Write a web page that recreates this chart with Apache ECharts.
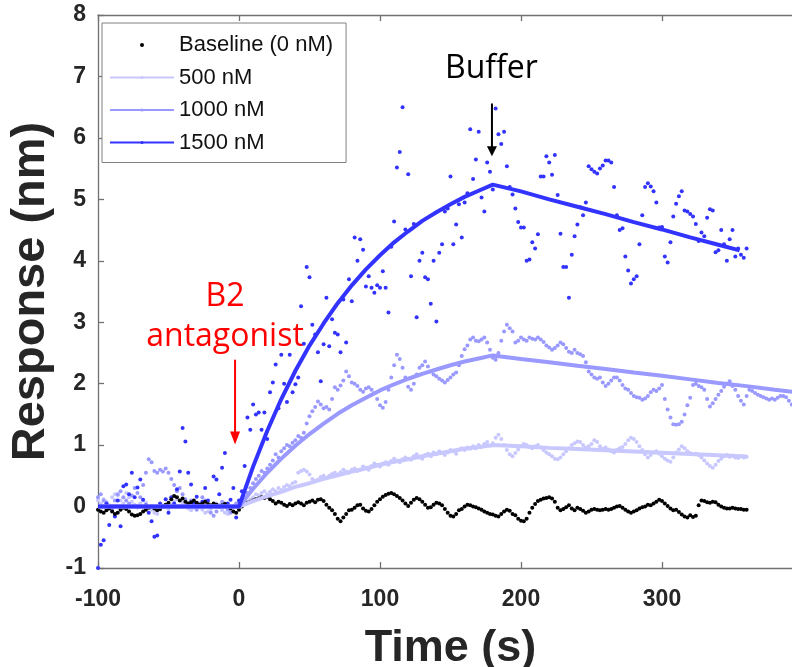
<!DOCTYPE html>
<html><head><meta charset="utf-8">
<script src="https://cdn.jsdelivr.net/npm/echarts@6/dist/echarts.min.js"></script>
<style>html,body{margin:0;padding:0;background:#fff}#c{width:792px;height:667px}</style>
</head><body><div id="c"></div>
<script>
// ---- data (time grid: start -100 s, every 2 s) ----
const timeStart = -100, timeStep = 2;
const xTicks = [-100, 0, 100, 200, 300];
const yTicks = [-1, 0, 1, 2, 3, 4, 5, 6, 7, 8];

const baseline = [
 -0.05,-0.08,-0.1,-0.06,-0.03,-0.08,-0.12,-0.1,-0.05,-0.02,-0.04,-0.08,-0.13,-0.15,-0.14,-0.12,
 -0.08,-0.05,-0.02,0.0,-0.03,-0.06,-0.04,0.0,0.03,0.06,
 0.12,0.17,0.15,0.1,0.13,0.08,0.05,0.07,0.1,0.06,
 0.03,0.05,0.08,0.04,0.02,0.05,0.03,0.0,0.02,0.04,
 0.01,-0.03,-0.08,-0.1,-0.05,
 0.0,0.04,0.06,0.08,0.1,0.12,0.13,0.15,0.14,0.16,
 0.12,0.09,0.05,0.08,0.06,0.03,0.01,0.04,0.02,0.05,
 0.07,0.05,0.02,0.06,0.08,0.1,0.07,0.11,0.12,0.09,
 0.03,-0.02,-0.06,-0.12,-0.2,-0.24,-0.18,-0.12,-0.06,-0.05,
 -0.02,0.02,0.03,-0.03,-0.07,-0.08,-0.04,0.02,0.08,0.12,
 0.16,0.19,0.21,0.22,0.2,0.17,0.14,0.1,0.05,0.01,
 0.06,0.11,0.14,0.12,0.08,0.03,-0.02,-0.01,0.03,0.06,
 0.05,0.02,-0.04,-0.1,-0.15,-0.16,-0.12,-0.06,-0.04,0.0,
 0.03,0.02,0.0,-0.01,-0.03,-0.05,-0.08,-0.1,-0.12,-0.13,
 -0.15,-0.16,-0.12,-0.08,-0.05,-0.07,-0.12,-0.14,-0.2,-0.23,
 -0.24,-0.2,-0.1,-0.02,0.04,0.09,0.11,0.13,0.14,0.15,
 0.13,0.08,-0.02,-0.06,-0.04,-0.01,0.02,-0.03,-0.06,-0.02,
 -0.04,-0.07,-0.1,-0.08,-0.05,-0.04,-0.05,-0.06,-0.05,-0.04,
 -0.05,-0.04,-0.02,0.0,0.01,-0.02,-0.05,-0.08,-0.1,-0.08,
 -0.06,-0.03,-0.01,0.0,0.03,0.02,0.05,0.08,0.11,0.09,
 0.05,0.01,-0.03,-0.06,-0.05,-0.09,-0.13,-0.16,-0.18,-0.14,
 -0.17,-0.15,0.02,0.1,0.09,0.07,0.06,0.08,0.07,0.03,
 0.0,-0.02,-0.03,-0.03,-0.02,-0.03,-0.04,-0.04,-0.05,-0.05
];

const resp500 = [
 0.1,0.05,0.12,0.08,0.02,0.15,0.2,0.18,0.1,0.05,
 0.22,0.15,0.08,0.03,-0.02,0.05,0.1,0.06,0.0,-0.05,
 -0.1,-0.12,-0.05,0.02,0.0,-0.04,0.03,0.08,0.12,0.1,
 0.06,0.02,-0.03,-0.06,-0.02,0.04,0.01,-0.05,-0.1,-0.08,
 -0.04,0.02,0.05,0.0,-0.06,-0.1,-0.12,-0.07,0.0,0.04,
 0.05,
 0.06,0.1,0.08,0.12,0.15,0.2,0.18,0.22,0.25,0.2,
 0.24,0.28,0.25,0.3,0.27,0.32,0.35,0.33,0.38,0.4,
 0.55,0.58,0.6,0.57,0.52,0.45,0.42,0.44,0.48,0.5,
 0.46,0.5,0.53,0.55,0.52,0.56,0.6,0.57,0.55,0.6,
 0.62,0.58,0.6,0.65,0.63,0.6,0.66,0.7,0.68,0.65,
 0.7,0.72,0.68,0.74,0.78,0.75,0.72,0.77,0.8,0.78,
 0.76,0.82,0.85,0.8,0.78,0.84,0.86,0.82,0.88,0.85,
 0.9,0.87,0.84,0.88,0.92,0.9,0.86,0.93,0.95,0.92,
 0.96,0.94,0.98,0.95,1.0,0.97,1.02,1.05,0.99,1.03,
 1.12,1.17,1.1,1.0,0.92,0.85,0.82,0.87,0.93,0.98,
 1.02,1.0,0.97,0.95,0.98,1.0,0.96,0.92,0.88,0.85,
 0.82,0.78,0.77,0.8,0.85,0.9,0.95,1.0,1.03,1.06,
 1.05,1.0,0.96,0.98,1.02,1.08,1.05,0.98,0.94,0.96,
 0.93,0.9,0.88,0.92,0.95,0.97,1.02,1.08,1.12,1.1,
 1.05,0.98,0.92,0.85,0.8,0.84,0.88,0.9,0.86,0.82,
 0.78,0.75,0.73,0.8,0.88,0.93,0.98,0.95,0.9,0.87,
 0.85,0.86,0.84,0.8,0.75,0.7,0.66,0.63,0.68,0.74,
 0.78,0.82,0.84,0.81,0.83,0.8,0.79,0.82,0.8,0.81
];

const resp1000 = [
 0.15,0.2,0.1,0.05,0.0,-0.05,0.1,0.2,0.25,0.15,
 0.1,0.05,0.18,0.3,0.22,0.15,0.35,0.55,0.77,0.72,
 0.58,0.55,0.6,0.57,0.62,0.55,0.45,0.35,0.25,0.3,
 0.2,0.12,0.05,0.1,0.0,-0.05,0.05,0.15,0.1,0.0,
 -0.1,-0.15,-0.08,0.02,0.08,0.05,-0.05,-0.1,0.0,0.05,
 0.08,
 0.1,0.15,0.22,0.3,0.38,0.45,0.5,0.58,0.55,0.62,
 0.68,0.75,0.85,0.8,0.9,0.95,1.0,0.98,1.04,1.08,
 1.15,1.12,1.2,1.35,1.47,1.55,1.62,1.71,1.66,1.6,
 1.62,1.58,1.75,1.94,1.9,1.97,2.05,2.2,2.12,2.02,
 2.0,1.96,1.9,1.87,1.92,1.94,1.9,1.85,1.75,1.65,
 1.61,1.7,1.9,2.1,2.3,2.47,2.4,2.26,2.1,1.95,
 1.9,2.0,2.15,2.26,2.3,2.36,2.28,2.2,2.15,2.12,
 2.08,2.05,2.02,2.06,2.1,2.15,2.18,2.3,2.45,2.56,
 2.62,2.72,2.75,2.7,2.69,2.72,2.75,2.67,2.55,2.42,
 2.39,2.5,2.7,2.85,2.96,2.9,2.85,2.67,2.7,2.75,
 2.72,2.7,2.75,2.73,2.72,2.75,2.72,2.68,2.62,2.59,
 2.55,2.58,2.62,2.67,2.64,2.58,2.52,2.5,2.55,2.5,
 2.48,2.45,2.35,2.2,2.15,2.1,2.08,2.1,2.02,1.96,
 2.0,2.05,2.1,2.1,2.05,1.98,1.92,1.9,1.85,1.8,
 1.78,1.77,1.74,1.76,1.8,1.86,1.9,1.88,1.92,1.98,
 1.75,1.58,1.45,1.34,1.33,1.34,1.38,1.5,1.65,1.77,
 1.98,2.0,1.96,1.94,1.9,1.75,1.63,1.68,1.75,1.82,
 1.88,1.95,2.0,2.04,1.96,1.9,1.8,1.72,1.66,1.8,
 1.9,1.88,1.85,1.82,1.8,1.78,1.76,1.74,1.76,1.74,
 1.77,1.8,1.8,1.78,1.72,1.66,1.63,1.68,1.72
];

const resp1500 = [
 -1.0,-0.62,-0.55,0.05,-0.3,0.0,-0.16,0.1,-0.32,0.33,
 0.36,0.2,0.55,0.15,0.31,0.44,0.11,0.02,-0.1,-0.24,
 -0.49,-0.47,0.05,0.0,0.12,-0.1,0.15,0.05,0.28,0.57,
 1.28,1.06,0.55,0.36,0.05,0.16,0.0,0.08,0.3,0.1,
 0.0,0.49,0.44,0.2,0.63,0.87,0.05,0.11,0.3,-0.18,
 0.1,
 0.25,0.66,1.45,1.25,1.66,1.5,1.53,1.25,1.53,1.1,
 1.86,2.02,2.31,1.6,2.47,2.0,1.7,2.47,1.86,1.99,
 2.1,3.26,2.65,3.9,3.73,2.96,2.8,2.51,2.04,2.64,
 3.4,2.61,3.05,2.83,2.8,2.51,3.37,2.67,3.7,3.34,
 4.38,4.0,4.35,4.18,3.58,3.75,3.56,3.48,3.6,3.56,
 3.83,3.56,3.16,4.23,4.64,5.52,5.77,6.5,4.51,5.41,
 3.75,4.6,3.08,4.0,4.13,3.73,3.7,3.3,4.0,3.01,
 4.13,4.27,4.8,4.85,5.37,4.27,4.59,4.92,4.38,4.95,
 5.1,6.14,5.33,5.65,6.1,5.03,4.8,5.6,5.45,5.16,
 6.48,6.06,5.9,6.1,5.54,5.2,5.08,4.85,4.63,4.54,
 4.54,4.0,4.02,4.3,4.2,4.43,5.37,5.37,5.7,5.6,
 5.4,5.72,5.07,4.44,3.9,3.9,3.4,4.1,4.4,4.59,
 4.87,4.74,4.95,5.54,5.49,5.45,5.42,5.5,5.55,5.63,
 5.63,5.6,5.2,4.74,4.5,4.53,4.07,3.84,3.63,3.7,
 3.75,4.27,4.74,5.2,5.26,5.21,5.13,4.95,4.54,4.55,
 4.07,3.97,4.3,4.72,4.93,5.05,5.13,4.82,4.8,4.76,
 4.72,4.6,4.32,4.46,4.4,4.7,4.84,4.82,4.14,4.17,
 4.5,4.27,4.0,4.35,4.5,4.07,4.2,4.1,4.05,4.2
];

// fitted curves
const fit500Time  = [-100,0,10,20,30,40,50,60,70,80,90,100,110,120,130,140,150,160,170,180,200,220,240,260,280,300,320,340,360];
const fit500      = [0,0,0.09,0.17,0.24,0.32,0.38,0.45,0.51,0.57,0.62,0.68,0.73,0.77,0.82,0.86,0.90,0.94,0.97,1.0,0.98,0.955,0.935,0.915,0.895,0.875,0.855,0.835,0.815];
const fit1000Time = [-100,0,10,20,30,40,50,60,70,80,90,100,110,120,130,140,150,160,170,180,200,220,240,260,280,300,320,340,360,380,400];
const fit1000     = [0,0,0.29,0.55,0.78,0.99,1.18,1.35,1.51,1.65,1.77,1.89,1.99,2.08,2.16,2.23,2.30,2.36,2.41,2.46,2.40,2.35,2.29,2.24,2.18,2.13,2.07,2.01,1.96,1.90,1.85];
const fit1500Time = [-100,0,10,20,30,40,50,60,70,80,90,100,110,120,130,140,150,160,170,180,200,220,240,260,280,300,320,340,355];
const fit1500     = [0,0,0.65,1.23,1.75,2.21,2.62,2.98,3.31,3.60,3.86,4.09,4.30,4.48,4.65,4.79,4.92,5.04,5.14,5.24,5.13,5.0,4.88,4.76,4.63,4.51,4.38,4.26,4.17];

const names = ['Baseline (0 nM)', '500 nM', '1000 nM', '1500 nM'];
const colors = ['#000000', '#c8c8ff', '#9999ff', '#3333ff'];

// annotations (data coordinates)
const bufferArrow = { x: 179.4, from: 6.56, to: 5.70 };
const antagArrow  = { x: -2.8,  from: 2.39, to: 1.01 };

function grid(vals) { return vals.map((v, i) => [timeStart + i * timeStep, v]); }
function zip(t, v) { return t.map((x, i) => [x, v[i]]); }

const chart = echarts.init(document.getElementById('c'), null, { renderer: 'canvas' });
const axisCol = '#262626';
const lineCol = '#707070';

function dots(name, data, color) {
  return { name, type: 'scatter', data, symbol: 'circle', symbolSize: 4,
    itemStyle: { color, opacity: 1 }, silent: true, animation: false };
}
function fit(name, data, color, w) {
  return { name, type: 'line', data, symbol: 'none', showSymbol: false, smooth: false,
    lineStyle: { color, width: w }, itemStyle: { color }, silent: true, animation: false };
}

chart.setOption({
  animation: false,
  backgroundColor: '#fff',
  grid: { left: 98, right: -11, top: 15, bottom: 99, containLabel: false, outerBoundsMode: 'none' },
  xAxis: [{
    type: 'value', min: -100, max: 400, interval: 100, position: 'bottom',
    name: 'Time (s)', nameLocation: 'middle', nameGap: 58,
    nameTextStyle: { fontFamily: 'Liberation Sans, Arial', fontWeight: 'bold', fontSize: 45, color: axisCol },
    axisLine: { show: true, onZero: false, lineStyle: { color: lineCol, width: 1.3 } },
    axisTick: { show: true, inside: true, length: 6, lineStyle: { color: lineCol, width: 1.3 } },
    axisLabel: { show: true, margin: 20, showMaxLabel: false, fontFamily: 'Liberation Sans, Arial', fontWeight: 'bold', fontSize: 23, color: axisCol,
      formatter: v => xTicks.includes(v) ? String(v) : '' },
    splitLine: { show: false }
  }, {
    type: 'value', min: -100, max: 400, interval: 100, position: 'top',
    axisLine: { show: true, onZero: false, lineStyle: { color: lineCol, width: 1.3 } },
    axisTick: { show: true, inside: true, length: 6, lineStyle: { color: lineCol, width: 1.3 } },
    axisLabel: { show: false }, splitLine: { show: false }
  }],
  yAxis: {
    type: 'value', min: -1, max: 8, interval: 1,
    name: 'Response (nm)', nameLocation: 'middle', nameGap: 36, nameRotate: 90,
    nameTextStyle: { fontFamily: 'Liberation Sans, Arial', fontWeight: 'bold', fontSize: 47, color: axisCol },
    axisLine: { show: true, onZero: false, lineStyle: { color: lineCol, width: 1.3 } },
    axisTick: { show: true, inside: true, length: 6, lineStyle: { color: lineCol, width: 1.3 } },
    axisLabel: { margin: 12, fontFamily: 'Liberation Sans, Arial', fontWeight: 'bold', fontSize: 23, color: axisCol,
      formatter: v => yTicks.includes(v) ? String(v) : '' },
    splitLine: { show: false }
  },
  legend: {
    orient: 'vertical', left: 102, top: 23,
    data: names,
    itemWidth: 64, itemHeight: 4, itemGap: 10.5,
    padding: [11, 13, 9, 7],
    backgroundColor: '#fff', borderColor: '#808080', borderWidth: 1,
    textStyle: { fontFamily: 'Liberation Sans, Arial', fontSize: 22, color: '#111' },
    selectedMode: false
  },
  series: [
    dots('500 nM data', grid(resp500), colors[1]),
    dots('1000 nM data', grid(resp1000), colors[2]),
    dots('1500 nM data', grid(resp1500), colors[3]),
    fit('500 nM', zip(fit500Time, fit500), colors[1], 4),
    fit('1000 nM', zip(fit1000Time, fit1000), colors[2], 4),
    fit('1500 nM', zip(fit1500Time, fit1500), colors[3], 4),
    dots('Baseline (0 nM)', grid(baseline), colors[0])
  ]
});

function px(x, y) { return chart.convertToPixel({ gridIndex: 0 }, [x, y]); }
function arrow(a, color, headLen, headW, width) {
  const p1 = px(a.x, a.from), p2 = px(a.x, a.to);
  return [
    { type: 'line', shape: { x1: p1[0], y1: p1[1], x2: p2[0], y2: p2[1] - headLen + 1 }, style: { stroke: color, lineWidth: width }, silent: true },
    { type: 'polygon', shape: { points: [[p2[0], p2[1]], [p2[0] - headW / 2, p2[1] - headLen], [p2[0] + headW / 2, p2[1] - headLen]] }, style: { fill: color }, silent: true }
  ];
}
const bp = px(bufferArrow.x, bufferArrow.from);
const ap = px(antagArrow.x, antagArrow.from);
chart.setOption({
  graphic: [
    ...arrow(bufferArrow, '#000000', 10, 10, 2),
    ...arrow(antagArrow, '#ff0000', 13, 10, 2),
    { type: 'text', x: bp[0] - 0.5, y: bp[1] - 35, silent: true,
      style: { text: 'Buffer', fill: '#000', font: '32px "Open Sans"', textAlign: 'center', textVerticalAlign: 'middle' } },
    { type: 'text', x: ap[0] - 10, y: ap[1] - 63, silent: true,
      style: { text: 'B2', fill: '#ff0000', font: '32px "Open Sans"', textAlign: 'center', textVerticalAlign: 'middle' } },
    { type: 'text', x: ap[0] - 10, y: ap[1] - 23, silent: true,
      style: { text: 'antagonist', fill: '#ff0000', font: '32px "Open Sans"', textAlign: 'center', textVerticalAlign: 'middle' } }
  ]
});
</script>
</body></html>
